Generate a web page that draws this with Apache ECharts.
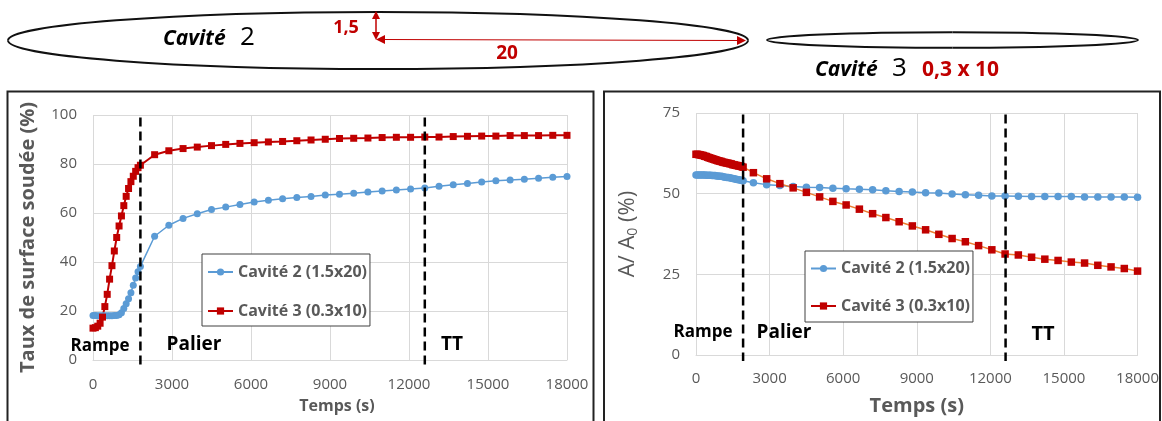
<!DOCTYPE html>
<html><head><meta charset="utf-8">
<script src="https://cdn.jsdelivr.net/npm/echarts@6/dist/echarts.min.js"></script>
<style>html,body{margin:0;padding:0;background:#fff}#c{width:1162px;height:421px}</style>
</head><body><div id="c"></div>
<script>
// ---------- DATA ----------
const seriesNames = ['Cavité 2 (1.5x20)', 'Cavité 3 (0.3x10)'];
const xTicks = [0, 3000, 6000, 9000, 12000, 15000, 18000];
const leftYTicks = [0, 20, 40, 60, 80, 100];
const rightYTicks = [0, 25, 50, 75];

// time (s) of samples
const leftRampTimes = [0,90,180,270,360,450,540,630,720,810,900,990,1080,1170,1260,1350,1440,1530,1620,1710,1800];
const rightRampTimes = [0,60,120,180,240,300,360,420,480,540,600,660,720,780,840,900,960,1020,1080,1140,1200,1260,1320,1380,1440,1500,1560,1620,1680,1740,1800,1860,1920];
const postTimes = [2340,2880,3420,3960,4500,5040,5580,6120,6660,7200,7740,8280,8820,9360,9900,10440,10980,11520,12060,12600,13140,13680,14220,14760,15300,15840,16380,16920,17460,18000];

// Left chart: Taux de surface soudée (%)
const leftRampC2 = [18.2,18.2,18.1,18.1,18.1,18.1,18.1,18.1,18.1,18.2,18.2,18.5,19.3,21.0,23.0,25.0,27.5,30.5,33.5,36.0,38.2];
const leftPostC2 = [50.5,55.0,57.8,59.7,61.4,62.4,63.5,64.5,65.2,65.8,66.3,66.7,67.3,67.7,68.1,68.6,69.0,69.4,69.8,70.2,70.9,71.5,72.0,72.7,73.2,73.5,73.8,74.2,74.6,74.9];
const leftRampC3 = [13.0,13.2,13.8,15.0,17.5,21.8,26.8,33.0,38.5,44.5,50.0,54.7,58.8,63.0,66.8,70.0,72.8,75.0,77.0,78.5,79.5];
const leftPostC3 = [83.8,85.4,86.3,86.9,87.5,88.0,88.4,88.7,89.0,89.2,89.5,89.8,90.1,90.4,90.5,90.6,90.8,90.9,90.9,91.0,91.0,91.2,91.3,91.4,91.4,91.6,91.6,91.6,91.7,91.7];

// Right chart: A/A0 (%)
const rightRampC2 = [55.8,55.8,55.8,55.8,55.8,55.8,55.8,55.7,55.7,55.7,55.7,55.6,55.6,55.6,55.5,55.5,55.4,55.4,55.3,55.2,55.1,55.0,55.0,54.9,54.8,54.7,54.6,54.5,54.4,54.3,54.2,54.1,54.0];
const rightPostC2 = [53.4,52.8,52.5,52.2,52.0,51.9,51.7,51.5,51.4,51.2,50.9,50.7,50.5,50.3,50.2,49.9,49.7,49.5,49.3,49.3,49.2,49.1,49.1,49.1,49.1,49.0,49.0,49.0,49.0,48.9];
const rightRampC3 = [62.2,62.2,62.1,62.0,61.9,61.8,61.6,61.5,61.3,61.1,61.0,60.8,60.7,60.5,60.4,60.2,60.1,60.0,59.8,59.7,59.6,59.5,59.4,59.3,59.2,59.0,58.9,58.8,58.7,58.6,58.5,58.4,58.2];
const rightPostC3 = [56.5,54.6,53.1,51.8,50.4,49.0,47.6,46.5,45.2,43.8,42.6,41.3,40.0,38.8,37.4,36.1,35.1,33.9,32.6,31.3,31.0,30.3,29.7,29.3,28.8,28.5,27.8,27.3,26.8,26.0];

// phase boundaries (s)
const leftBounds = [1800, 12600];
const rightBounds = [1920, 12620];
const phaseNames = ['Rampe', 'Palier', 'TT'];

// ---------- CHART ----------
const FONT = "'Open Sans', 'Noto Sans', sans-serif";
const GREY = '#595959';
const BLUE = '#5B9BD5', RED = '#C00000', ORANGE = '#ED7D31';
const pairs = (ts, vs) => ts.map((t, i) => [t, vs[i]]);

const chart = echarts.init(document.getElementById('c'), null, {renderer: 'canvas'});

function xAxis(gridIndex, labelMargin, nameSize, nameGap, namePad) {
  return {
    type: 'value', gridIndex, min: 0, max: 18000, interval: 3000,
    axisLine: {show: true, lineStyle: {color: '#D9D9D9'}},
    axisTick: {show: false},
    splitLine: {show: true, lineStyle: {color: '#D9D9D9'}},
    axisLabel: {color: GREY, fontSize: 15, fontFamily: FONT, margin: labelMargin,
      formatter: v => xTicks.includes(v) ? String(v) : ''},
    name: 'Temps (s)', nameLocation: 'middle', nameGap,
    nameTextStyle: {color: GREY, fontSize: nameSize, fontWeight: 'bold', fontFamily: FONT, padding: namePad}
  };
}
function yAxis(gridIndex, max, interval, ticks, name, nameStyle, nameGap) {
  return {
    type: 'value', gridIndex, min: 0, max, interval,
    axisLine: {show: false}, axisTick: {show: false},
    splitLine: {show: true, lineStyle: {color: '#D9D9D9'}},
    axisLabel: {color: GREY, fontSize: 15, fontFamily: FONT, margin: 16,
      formatter: v => ticks.includes(v) ? String(v) : ''},
    name, nameLocation: 'middle', nameRotate: 90, nameGap,
    nameTextStyle: nameStyle
  };
}
function boundSeries(xi, bounds, topVal) {
  return {
    type: 'custom', xAxisIndex: xi, yAxisIndex: xi, silent: true, z: 5, clip: false,
    data: bounds.map(t => [t]), encode: {x: 0},
    renderItem: (params, api) => {
      const a = api.coord([api.value(0), topVal]);
      const b = api.coord([api.value(0), 0]);
      return {type: 'line', shape: {x1: a[0], y1: a[1], x2: b[0], y2: b[1] + 6},
        style: {stroke: '#000', lineWidth: 2.5, lineDash: [9, 5]}};
    }
  };
}
function legend(left, top, gap, pad) {
  return {
    data: seriesNames, orient: 'vertical', left, top,
    backgroundColor: '#fff', borderColor: '#404040', borderWidth: 1,
    padding: pad, itemGap: gap, itemWidth: 25, itemHeight: 9,
    textStyle: {color: GREY, fontSize: 16, fontWeight: 'bold', fontFamily: FONT},
    selectedMode: false
  };
}
function txt(text, x, y, font, fill) {
  return {type: 'text', silent: true, z: 20,
    style: {text, x, y, font, fill: fill || '#000', align: 'center', verticalAlign: 'middle'}};
}
function ltxt(text, x, y, font, fill) {
  return {type: 'text', silent: true, z: 20,
    style: {text, x, y, font, fill: fill || '#000', align: 'left', verticalAlign: 'middle'}};
}
function tri(p) { return {type: 'polygon', silent: true, z: 20, shape: {points: p}, style: {fill: RED}}; }
// ellipse outline from four cubic bezier quarters
function ellipse(cx, cy, rx, ry) {
  const k = 0.5523, out = [];
  const q = [[1, 0, 0, 1], [0, 1, -1, 0], [-1, 0, 0, -1], [0, -1, 1, 0]];
  q.forEach(([ax, ay, bx, by]) => {
    out.push({type: 'bezierCurve', silent: true, z: 10,
      shape: {x1: cx + ax * rx, y1: cy + ay * ry, x2: cx + bx * rx, y2: cy + by * ry,
        cpx1: cx + ax * rx + bx * k * rx, cpy1: cy + ay * ry + by * k * ry,
        cpx2: cx + bx * rx + ax * k * rx, cpy2: cy + by * ry + ay * k * ry},
      style: {fill: 'none', stroke: '#111', lineWidth: 2}});
  });
  return out;
}

const option = {
  animation: false,
  backgroundColor: '#fff',
  grid: [
    {left: 93, top: 115, width: 474, height: 245},
    {left: 696, top: 113, width: 443, height: 245}
  ],
  xAxis: [xAxis(0, 17, 16, 38, [0, 0, 0, 14]), xAxis(1, 16, 20, 41, 0)],
  yAxis: [
    yAxis(0, 100, 20, leftYTicks, 'Taux de surface soudée (%)',
      {color: GREY, fontSize: 20, fontWeight: 'bold', fontFamily: FONT}, 55),
    yAxis(1, 75, 25, rightYTicks, 'A/ A{s|0} (%)',
      {color: GREY, fontSize: 22, fontFamily: FONT,
       rich: {s: {fontSize: 14, color: GREY, fontFamily: FONT, verticalAlign: 'bottom', padding: [11, 0, 0, 0]}}}, 56)
  ],
  legend: [legend(202, 254, 23, [10, 3, 7, 5]), legend(805, 251, 21.5, [9.5, 3, 8, 5])],
  series: [
    {type: 'line', name: seriesNames[0], xAxisIndex: 0, yAxisIndex: 0,
     data: pairs(leftRampTimes.concat(postTimes), leftRampC2.concat(leftPostC2)),
     symbol: 'circle', symbolSize: 7, itemStyle: {color: BLUE}, lineStyle: {color: BLUE, width: 1.5}},
    {type: 'line', name: seriesNames[1], xAxisIndex: 0, yAxisIndex: 0,
     data: pairs(leftRampTimes.concat(postTimes), leftRampC3.concat(leftPostC3)),
     symbol: 'rect', symbolSize: 7, itemStyle: {color: RED}, lineStyle: {color: RED, width: 2}},
    {type: 'line', name: seriesNames[0], xAxisIndex: 1, yAxisIndex: 1,
     data: pairs(rightRampTimes.concat(postTimes), rightRampC2.concat(rightPostC2)),
     symbol: 'circle', symbolSize: 7.5, itemStyle: {color: BLUE}, lineStyle: {color: BLUE, width: 1.5}},
    {type: 'line', name: seriesNames[1], xAxisIndex: 1, yAxisIndex: 1,
     data: pairs(rightRampTimes.concat(postTimes), rightRampC3.concat(rightPostC3)),
     symbol: 'rect', symbolSize: 7.5, itemStyle: {color: RED}, lineStyle: {color: ORANGE, width: 1.5}},
    boundSeries(0, leftBounds, 99),
    boundSeries(1, rightBounds, 74.5)
  ],
  graphic: [
    // panel frames
    {type: 'rect', silent: true, z: 0, shape: {x: 7.5, y: 91.5, width: 586, height: 340},
     style: {fill: 'none', stroke: '#222', lineWidth: 2}},
    {type: 'rect', silent: true, z: 0, shape: {x: 604, y: 91.5, width: 556, height: 340},
     style: {fill: 'none', stroke: '#222', lineWidth: 2}},
    // cavity sketches
    ...ellipse(378, 40.5, 370, 28.5),
    ...ellipse(952.5, 40, 185.5, 7.8),
    ltxt('Cavité', 163, 39, "italic bold 21px " + FONT),
    ltxt('2', 240, 38, "26px " + FONT),
    ltxt('Cavité', 815, 70, "italic bold 21px " + FONT),
    ltxt('3', 892, 69, "26px " + FONT),
    txt('1,5', 346, 28, "bold 18px " + FONT, RED),
    txt('20', 507, 54, "bold 19px " + FONT, RED),
    ltxt('0,3 x 10', 922, 70, "bold 21px " + FONT, RED),
    // dimension arrows
    {type: 'line', silent: true, z: 20, shape: {x1: 376, y1: 17, x2: 376, y2: 35}, style: {stroke: RED, lineWidth: 1.5}},
    tri([[376, 11], [372, 19], [380, 19]]),
    tri([[376, 40], [372, 32], [380, 32]]),
    {type: 'line', silent: true, z: 20, shape: {x1: 382, y1: 39.5, x2: 740, y2: 40.5}, style: {stroke: RED, lineWidth: 1.2}},
    tri([[376, 39.5], [385, 35], [385, 44]]),
    tri([[746, 40.5], [737, 36], [737, 45]]),
    // phase labels
    txt(phaseNames[0], 100, 346, "bold 17px " + FONT),
    txt(phaseNames[1], 194, 345, "bold 19px " + FONT),
    txt(phaseNames[2], 452, 345, "bold 19px " + FONT),
    txt(phaseNames[0], 703, 332, "bold 17px " + FONT),
    txt(phaseNames[1], 784, 333, "bold 19px " + FONT),
    txt(phaseNames[2], 1043, 334, "bold 20px " + FONT)
  ]
};
chart.setOption(option);
</script></body></html>
